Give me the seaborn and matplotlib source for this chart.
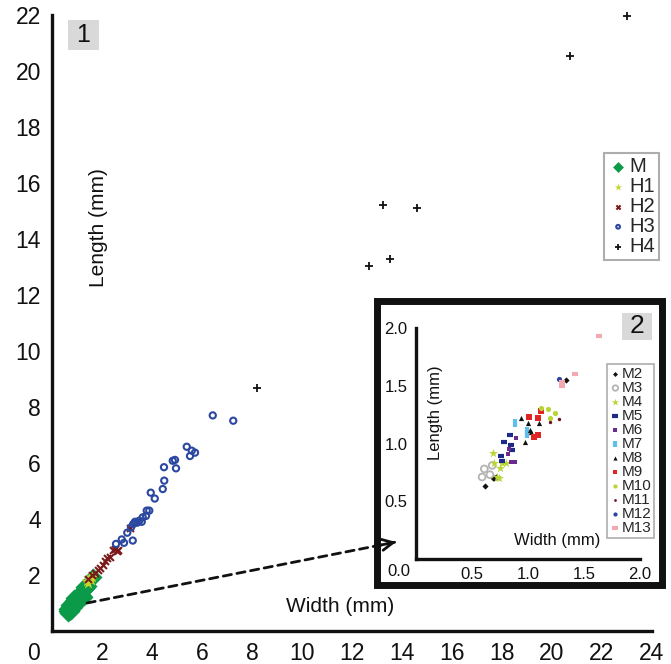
import matplotlib
matplotlib.use("Agg")
import matplotlib.pyplot as plt
import seaborn as sns
from matplotlib.patches import Rectangle

# ---------------- data: main panel (width, length in mm) ----------------
h1_w = [1.40, 1.48, 1.55, 1.60, 1.45]
h1_l = [1.78, 1.88, 1.82, 1.92, 1.70]

h2_w = [1.45, 1.59, 1.72, 1.85, 1.92, 2.03, 2.12, 2.21, 2.32, 2.45, 2.52, 2.59, 2.65, 3.12]
h2_l = [1.85, 2.00, 2.06, 2.18, 2.24, 2.36, 2.51, 2.60, 2.63, 2.89, 2.92, 2.87, 2.89, 3.67]

h3_w = [2.56, 2.79, 2.88, 3.01, 3.23, 3.16, 3.25, 3.32, 3.41, 3.49, 3.59, 3.63, 3.76, 3.79,
        3.89, 3.95, 4.11, 4.43, 4.49, 4.48, 4.83, 4.92, 4.96, 5.39, 5.52, 5.59, 5.72, 6.43, 7.25]
h3_l = [3.11, 3.27, 3.15, 3.51, 3.23, 3.70, 3.82, 3.90, 3.87, 3.94, 3.90, 4.06, 4.11, 4.30,
        4.30, 4.94, 4.73, 5.07, 5.37, 5.85, 6.08, 6.11, 5.81, 6.58, 6.25, 6.44, 6.37, 7.70, 7.51]

h4_w = [8.19, 12.68, 13.22, 13.52, 14.61, 20.72, 22.99]
h4_l = [8.67, 13.04, 15.20, 13.28, 15.12, 20.55, 21.97]

# ---------------- data: inset panel ----------------
m2_w = [0.62, 0.70, 0.71, 0.69, 1.34]
m2_l = [0.63, 0.70, 0.71, 0.70, 1.55]
m3_w = [0.59, 0.61, 0.66, 0.68]
m3_l = [0.71, 0.78, 0.73, 0.81]
m4_w = [0.69, 0.70, 0.74, 0.75, 0.77, 0.80, 0.72]
m4_l = [0.92, 0.83, 0.70, 0.79, 0.83, 0.83, 0.71]
m5_w = [0.76, 0.79, 0.84, 0.85, 0.86, 0.77]
m5_l = [0.89, 1.01, 1.07, 0.99, 0.94, 0.85]
m6_w = [0.82, 0.83, 0.85, 0.88, 0.89]
m6_l = [0.91, 0.95, 0.84, 0.84, 1.05]
m7_w = [0.88, 0.99, 0.99]
m7_l = [1.18, 1.11, 1.08]
m8_w = [0.94, 0.97, 1.00, 1.02, 1.03, 1.10]
m8_l = [1.22, 1.01, 1.18, 1.12, 1.10, 1.18]
m9_w = [1.01, 1.05, 1.09, 1.12, 1.09]
m9_l = [1.23, 1.06, 1.07, 1.28, 1.22]
m10_w = [1.12, 1.18, 1.20, 1.24]
m10_l = [1.31, 1.30, 1.22, 1.26]
m11_w = [1.20, 1.28]
m11_l = [1.19, 1.21]
m12_w = [1.28]
m12_l = [1.56]
m13_w = [1.30, 1.30, 1.42, 1.63]
m13_l = [1.53, 1.50, 1.60, 1.93]

# M in the main panel is all inset groups together
m_w = m2_w + m3_w + m4_w + m5_w + m6_w + m7_w + m8_w + m9_w + m10_w + m11_w + m12_w + m13_w
m_l = m2_l + m3_l + m4_l + m5_l + m6_l + m7_l + m8_l + m9_l + m10_l + m11_l + m12_l + m13_l

main_xticks = [2, 4, 6, 8, 10, 12, 14, 16, 18, 20, 22, 24]
main_yticks = [2, 4, 6, 8, 10, 12, 14, 16, 18, 20, 22]
inset_ticks = [0.5, 1.0, 1.5, 2.0]

sns.set_style("white")
plt.rcParams["font.family"] = ["Liberation Sans", "DejaVu Sans"]

W, H = 671, 664
fig = plt.figure(figsize=(W / 100, H / 100), dpi=100)


def fx(x):
    return x / W


def fy(y):
    return 1 - y / H


def style_axes(a, lw, tl, fs, pad):
    for s in ["top", "right"]:
        a.spines[s].set_visible(False)
    for s in ["left", "bottom"]:
        a.spines[s].set_linewidth(lw)
        a.spines[s].set_color("#111111")
    a.tick_params(direction="in", length=tl, width=lw, labelsize=fs, pad=pad, colors="#111111")


# ---------------- main panel ----------------
ax = fig.add_axes([fx(52), fy(631), fx(600), 616 / H])
ax.set_xlim(0, 24)
ax.set_ylim(0, 22)

sns.scatterplot(x=m_w, y=m_l, marker="D", color="#0b9a48", s=85, edgecolor="#0b9a48",
                linewidth=0, label="M", ax=ax, zorder=3)
sns.scatterplot(x=h1_w, y=h1_l, marker="*", color="#c5d62c", s=80, edgecolor="#c5d62c",
                linewidth=0, label="H1", ax=ax, zorder=4)
sns.scatterplot(x=h2_w, y=h2_l, marker="x", color="#7a1b1b", s=25, linewidth=1.5,
                label="H2", ax=ax, zorder=5)
sns.scatterplot(x=h3_w, y=h3_l, marker="o", facecolor="none", edgecolor="#2b48a0", s=20,
                linewidth=1.5, label="H3", ax=ax, zorder=5)
sns.scatterplot(x=h4_w, y=h4_l, marker="+", color="#111111", s=40, linewidth=1.3,
                label="H4", ax=ax, zorder=5, clip_on=False)

style_axes(ax, 2.4, 6, 16.5, 8)
ax.set_xticks(main_xticks)
ax.set_yticks(main_yticks)
ax.set_xlabel("")
ax.set_ylabel("")
fig.text(fx(33), fy(653), "0", fontsize=16.5, ha="center", va="center", color="#111111")

fig.text(fx(340), fy(606), "Width (mm)", fontsize=15, ha="center", va="center", color="#111111")
fig.text(fx(99), fy(228), "Length (mm)", fontsize=15, ha="center", va="center",
         rotation=90, color="#111111")

fig.patches.append(Rectangle((fx(68), fy(50)), fx(31), 30 / H, transform=fig.transFigure,
                             facecolor="#d9d9d9", edgecolor="none", zorder=1))
fig.text(fx(83.5), fy(35), "1", fontsize=18, ha="center", va="center", color="#111111", zorder=2)

leg = ax.legend(loc="upper left", bbox_to_anchor=(fx(604), fy(153)),
                bbox_transform=fig.transFigure, fontsize=14.5, frameon=True, fancybox=False,
                handletextpad=0.05, handlelength=1.0, labelspacing=0.05, borderpad=0.2,
                borderaxespad=0, markerscale=0.6)
leg.get_frame().set_edgecolor("#999999")
leg.get_frame().set_linewidth(1.5)

# ---------------- inset frame ----------------
fig.patches.append(Rectangle((fx(376.5), fy(584.5)), fx(285), 284 / H, transform=fig.transFigure,
                             facecolor="white", edgecolor="#111111", linewidth=5, zorder=2))

ax2 = fig.add_axes([fx(416), fy(559), fx(224), 231 / H], zorder=3)
ax2.set_xlim(0, 2)
ax2.set_ylim(0, 2)
ax2.patch.set_alpha(0)

inset_groups = [
    ("M2", m2_w, m2_l, "D", "#111111", 10),
    ("M3", m3_w, m3_l, "o", "#b4b4b4", 24),
    ("M4", m4_w, m4_l, "*", "#b7d535", 45),
    ("M5", m5_w, m5_l, "_", "#1d2a8a", 25),
    ("M6", m6_w, m6_l, "s", "#6b2a90", 10),
    ("M7", m7_w, m7_l, "|", "#5cc0ea", 30),
    ("M8", m8_w, m8_l, "^", "#111111", 14),
    ("M9", m9_w, m9_l, "s", "#e02424", 14),
    ("M10", m10_w, m10_l, "o", "#b7d535", 14),
    ("M11", m11_w, m11_l, "o", "#6e1420", 6),
    ("M12", m12_w, m12_l, "o", "#2a44a6", 14),
    ("M13", m13_w, m13_l, "_", "#f2a9b2", 25),
]
for name, xs, ys, mk, col, sz in inset_groups:
    if mk == "o" and name == "M3":
        sns.scatterplot(x=xs, y=ys, marker=mk, facecolor="none", edgecolor=col, s=sz,
                        linewidth=1.3, label=name, ax=ax2)
    elif mk in ("_", "|"):
        sns.scatterplot(x=xs, y=ys, marker=mk, color=col, s=sz, linewidth=3,
                        label=name, ax=ax2)
    else:
        sns.scatterplot(x=xs, y=ys, marker=mk, color=col, s=sz, edgecolor=col,
                        linewidth=0, label=name, ax=ax2)

style_axes(ax2, 2.4, 5, 12, 6)
ax2.set_xticks(inset_ticks)
ax2.set_yticks(inset_ticks)
ax2.set_xticklabels(["0.5", "1.0", "1.5", "2.0"])
ax2.set_yticklabels(["0.5", "1.0", "1.5", "2.0"])
ax2.set_xlabel("")
ax2.set_ylabel("")
fig.text(fx(399), fy(572), "0.0", fontsize=12, ha="center", va="center", color="#111111", zorder=4)
fig.text(fx(557), fy(540), "Width (mm)", fontsize=12, ha="center", va="center",
         color="#111111", zorder=4)
fig.text(fx(436), fy(413), "Length (mm)", fontsize=12, ha="center", va="center",
         rotation=90, color="#111111", zorder=4)

fig.patches.append(Rectangle((fx(622), fy(340)), fx(30), 27 / H, transform=fig.transFigure,
                             facecolor="#d9d9d9", edgecolor="none", zorder=3))
fig.text(fx(637), fy(326), "2", fontsize=19, ha="center", va="center", color="#111111", zorder=4)

leg2 = ax2.legend(loc="upper left", bbox_to_anchor=(fx(607), fy(364)),
                  bbox_transform=fig.transFigure, fontsize=11, frameon=True, fancybox=False,
                  handletextpad=0.05, handlelength=0.7, labelspacing=0.0, borderpad=0.2,
                  borderaxespad=0, markerscale=0.8)
leg2.get_frame().set_edgecolor("#999999")
leg2.get_frame().set_linewidth(1.2)

# ---------------- dashed arrow (dashed shaft + solid open head) ----------------
p0 = (fx(87), fy(603))
p1 = (fx(396), fy(542))
shaft = fig.add_artist(plt.Annotation("", xy=p1, xytext=p0,
                                      xycoords="figure fraction", textcoords="figure fraction",
                                      arrowprops=dict(arrowstyle="-", linestyle=(0, (3, 2)),
                                                      lw=2, color="#111111",
                                                      shrinkA=0, shrinkB=1)))
shaft.set_zorder(6)
head = fig.add_artist(plt.Annotation("", xy=p1, xytext=(fx(380), fy(545.2)),
                                     xycoords="figure fraction", textcoords="figure fraction",
                                     arrowprops=dict(arrowstyle="->", lw=2, color="#111111",
                                                     mutation_scale=20, shrinkA=0, shrinkB=0)))
head.set_zorder(7)

fig.savefig("out.png", dpi=100)
